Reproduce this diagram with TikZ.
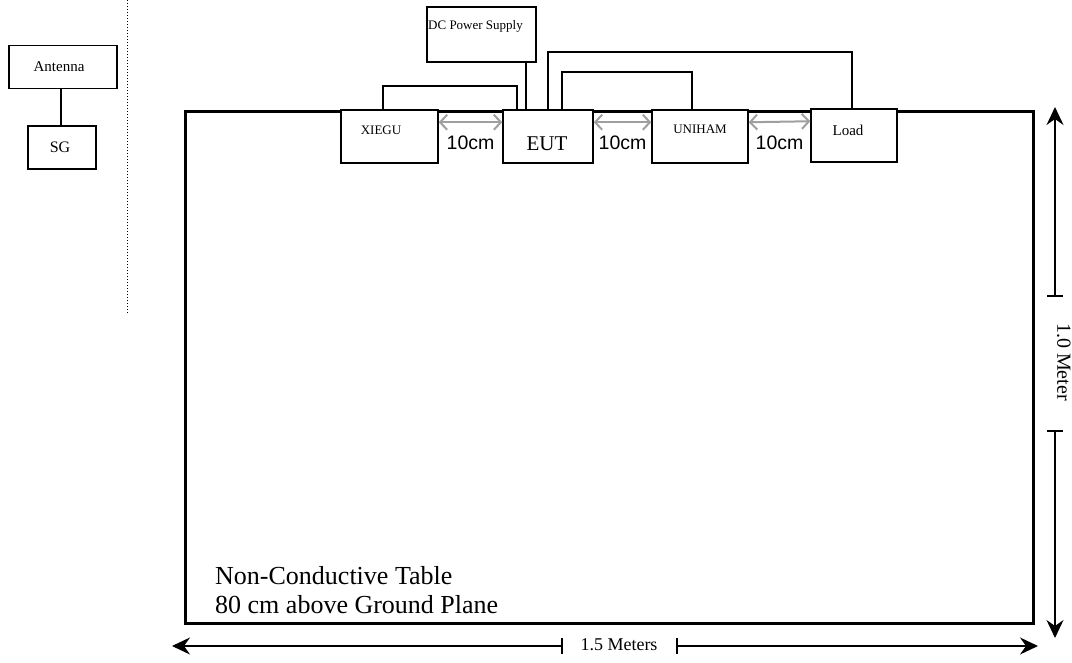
\documentclass[tikz,border=0pt]{standalone}
\usepackage{fontspec}
\setmainfont{Liberation Serif}
\newfontfamily\arialfont{Liberation Sans}
\usetikzlibrary{arrows.meta}
\begin{document}
\begin{tikzpicture}[x=1pt,y=-1pt,
  box/.style={draw,line width=1.5pt,fill=white,inner sep=0pt},
  wire/.style={line width=1.6pt},
  gap/.style={draw=gray!75,line width=2pt,{Straight Barb[length=7pt,width=15pt]}-{Straight Barb[length=7pt,width=15pt]}},
  dim/.style={line width=1.1pt,-{Stealth[length=18pt,width=17pt,inset=6pt]}},
  tick/.style={line width=1.1pt},
  lbl/.style={inner sep=0pt}]
\useasboundingbox (0,0) rectangle (1072,662);
% dotted separator
\coordinate (s1) at (127,0);
\coordinate (s2) at (127,313);
\draw[line width=1pt,dotted] (s1) -- (s2);
% antenna and SG
\node[box,minimum width=108pt,minimum height=43pt] (ant) at (63,67) {};
\node[lbl,font=\fontsize{15}{18}\selectfont] (antt) at (59,67) {Antenna};
\node[box,minimum width=68pt,minimum height=43pt] (sg) at (62,147.5) {};
\node[lbl,font=\fontsize{16}{18}\selectfont] (sgt) at (60,147) {SG};
\draw[wire] (ant.south -| 61,0) -- (sg.north -| 61,0);
% table
\node[draw,line width=3pt,minimum width=848pt,minimum height=512pt,inner sep=0pt] (table) at (609,367) {};
\node[lbl,anchor=base west,align=left,font=\fontsize{26}{29}\selectfont] (tt) at (215,613) {Non-Conductive Table\\80 cm above Ground Plane};
% boxes on the table
\node[box,minimum width=97pt,minimum height=53pt] (xiegu) at (389.5,136.5) {};
\node[lbl,font=\fontsize{13}{15}\selectfont] (xieguT) at (381,130) {XIEGU};
\node[box,minimum width=90pt,minimum height=53pt] (eut) at (548,136.5) {};
\node[lbl,font=\fontsize{21}{24}\selectfont] (eutT) at (547,144) {EUT};
\node[box,minimum width=96pt,minimum height=53pt] (uniham) at (700,136.5) {};
\node[lbl,font=\fontsize{13}{15}\selectfont] (unihamT) at (700,129) {UNIHAM};
\node[box,minimum width=86pt,minimum height=53pt] (load) at (854,135.5) {};
\node[lbl,font=\fontsize{15}{17}\selectfont] (loadT) at (848,130) {Load};
\node[box,minimum width=109pt,minimum height=55pt] (dc) at (481.5,34.5) {};
\node[lbl,anchor=west,font=\fontsize{13}{15}\selectfont] (dcT) at (428,26) {DC Power Supply};
% wires
\draw[wire] ([xshift=43pt]xiegu.north west) |- ([xshift=15pt,yshift=23pt]eut.north west) -- ([xshift=15pt]eut.north west);
\draw[wire] ([xshift=24pt]eut.north west) -- ([xshift=24pt]eut.north west |- dc.south);
\draw[wire] ([xshift=46pt]eut.north west) |- ([xshift=42pt,yshift=56pt]load.north west) -- ([xshift=42pt]load.north west);
\draw[wire] ([xshift=60pt]eut.north west) |- ([xshift=41pt,yshift=37pt]uniham.north west) -- ([xshift=41pt]uniham.north west);
% 10 cm gaps
\draw[gap] ([yshift=-13pt]xiegu.north east) -- ([yshift=-13pt]eut.north west);
\draw[gap] ([yshift=-13pt]eut.north east) -- ([yshift=-13pt]uniham.north west);
\draw[gap] ([yshift=-13pt]uniham.north east) -- ([yshift=-13pt]load.north west);
\node[lbl,font=\arialfont\fontsize{19.5}{22}\selectfont] (g1) at (470.5,143) {10cm};
\node[lbl,font=\arialfont\fontsize{19.5}{22}\selectfont] (g2) at (622.5,143) {10cm};
\node[lbl,font=\arialfont\fontsize{19.5}{22}\selectfont] (g3) at (779.5,143) {10cm};
% width dimension
\coordinate (bl) at (172,646);
\coordinate (br) at (1038,646);
\coordinate (bt1) at (562,646);
\coordinate (bt2) at (677,646);
\node[lbl,font=\fontsize{18}{20}\selectfont] (wl) at (619,645) {1.5 Meters};
\draw[dim] (bt1) -- (bl);
\draw[dim] (bt2) -- (br);
\draw[tick] ([yshift=8pt]bt1) -- ([yshift=-8pt]bt1);
\draw[tick] ([yshift=8pt]bt2) -- ([yshift=-8pt]bt2);
% height dimension
\coordinate (rt) at (1055,107);
\coordinate (rb) at (1055,638);
\coordinate (rt1) at (1055,296);
\coordinate (rt2) at (1055,431);
\node[lbl,rotate=-90,font=\fontsize{20}{22}\selectfont] (hl) at (1064,362) {1.0 Meter};
\draw[dim] (rt1) -- (rt);
\draw[dim] (rt2) -- (rb);
\draw[tick] ([xshift=-8pt]rt1) -- ([xshift=8pt]rt1);
\draw[tick] ([xshift=-8pt]rt2) -- ([xshift=8pt]rt2);
\end{tikzpicture}
\end{document}
